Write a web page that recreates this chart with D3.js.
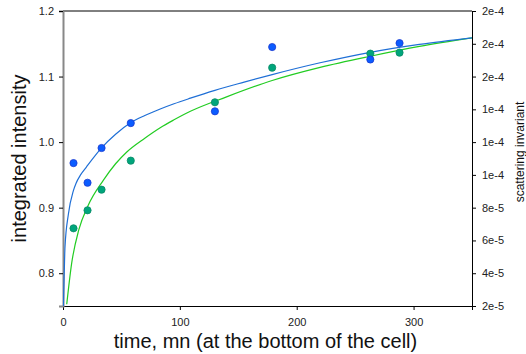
<!DOCTYPE html>
<html>
<head>
<meta charset="utf-8">
<script src="https://cdn.jsdelivr.net/npm/d3@7"></script>
<style>
  body { margin: 0; background: #fff; }
  text { font-family: "Liberation Sans", Arial, sans-serif; }
</style>
</head>
<body>
<script>
// measured times (mn)
var times = [9, 21, 33, 58, 130, 179, 263, 288];
// integrated intensity (left axis)
var intensity = [0.968, 0.938, 0.991, 1.029, 1.047, 1.145, 1.126, 1.151];
// scattering invariant (right axis)
var invariant = [6.74e-5, 7.84e-5, 9.10e-5, 1.087e-4, 1.443e-4, 1.654e-4, 1.740e-4, 1.746e-4];

// fitted curves
var intensityFitT = [0.3, 0.9, 1.7, 4.6, 8.9, 11.1, 15, 20, 33.2, 45, 57.5, 70, 83.2, 95, 109, 130, 155, 179, 220, 263, 305, 350];
var intensityFitV = [0.75, 0.789, 0.84, 0.89, 0.926, 0.937, 0.95, 0.962, 0.9916, 1.012, 1.029, 1.0405, 1.0505, 1.0585, 1.067, 1.079, 1.0915, 1.103, 1.121, 1.137, 1.149, 1.159];
var invariantFitT = [3.2, 7.4, 13.5, 21.4, 34.6, 45, 54.6, 70, 83.2, 95, 109, 140, 179, 220, 263, 305, 350];
var invariantFitV = [2.104e-5, 4.60e-5, 6.64e-5, 8.12e-5, 9.68e-5, 1.068e-4, 1.14e-4, 1.224e-4, 1.288e-4, 1.336e-4, 1.388e-4, 1.476e-4, 1.576e-4, 1.656e-4, 1.724e-4, 1.784e-4, 1.836e-4];

var xTicks = [0, 100, 200, 300];
var leftTicks = [0.8, 0.9, 1.0, 1.1, 1.2];
var rightTicks = [2e-5, 4e-5, 6e-5, 8e-5, 1e-4, 1.2e-4, 1.4e-4, 1.6e-4, 1.8e-4, 2e-4];

var W = 526, H = 354;
var margin = { top: 11, right: 54, bottom: 48, left: 63 },
  width = W - margin.left - margin.right,
  height = H - margin.top - margin.bottom;

var x = d3.scaleLinear().domain([0, 350]).range([0, width]);
var yL = d3.scaleLinear().domain([0.75, 1.2]).range([height, 0]);
var yR = d3.scaleLinear().domain([2e-5, 2e-4]).range([height, 0]);

var svg = d3.select("body").append("svg")
  .attr("width", W)
  .attr("height", H);

var g = svg.append("g")
  .attr("transform", "translate(" + margin.left + "," + margin.top + ")");

g.append("clipPath").attr("id", "clip")
  .append("rect").attr("width", width).attr("height", height);

// top frame line
g.append("line")
  .attr("x1", 0).attr("x2", width).attr("y1", 0).attr("y2", 0)
  .attr("stroke", "#000").attr("stroke-width", 1);

var xAxis = g.append("g")
  .attr("transform", "translate(0," + height + ")")
  .call(d3.axisBottom(x).tickValues(xTicks).tickSize(4).tickPadding(8).tickFormat(d3.format("d")));

var leftAxis = g.append("g")
  .call(d3.axisLeft(yL).tickValues(leftTicks).tickSize(4).tickPadding(5).tickFormat(d3.format(".1f")));

var rightAxis = g.append("g")
  .attr("transform", "translate(" + width + ",0)")
  .call(d3.axisRight(yR).tickValues(rightTicks).tickSize(4).tickPadding(6).tickFormat(d3.format(".0e")));

[xAxis, leftAxis, rightAxis].forEach(function (a) {
  a.selectAll("text").attr("font-size", 11).attr("fill", "#222")
    .style("font-family", "'Liberation Sans', Arial, sans-serif");
  a.selectAll(".tick line").attr("stroke", "#000");
  a.select(".domain").attr("stroke", "#000");
});
leftAxis.select(".domain").attr("stroke", "#888").attr("stroke-width", 2);

var plot = g.append("g").attr("clip-path", "url(#clip)");

var lineL = d3.line()
  .x(function (d) { return x(d[0]); })
  .y(function (d) { return yL(d[1]); })
  .curve(d3.curveMonotoneX);
var lineR = d3.line()
  .x(function (d) { return x(d[0]); })
  .y(function (d) { return yR(d[1]); })
  .curve(d3.curveMonotoneX);

plot.append("path")
  .datum(d3.zip(invariantFitT, invariantFitV))
  .attr("d", lineR)
  .attr("fill", "none")
  .attr("stroke", "#22cc22")
  .attr("stroke-width", 1.2);

plot.append("path")
  .datum(d3.zip(intensityFitT, intensityFitV))
  .attr("d", lineL)
  .attr("fill", "none")
  .attr("stroke", "#1f6fd6")
  .attr("stroke-width", 1.2);

g.selectAll(".dotR")
  .data(d3.zip(times, invariant))
  .enter().append("circle")
  .attr("class", "dotR")
  .attr("cx", function (d) { return x(d[0]); })
  .attr("cy", function (d) { return yR(d[1]); })
  .attr("r", 3.6)
  .attr("fill", "#00a57c")
  .attr("stroke", "#0a8a66")
  .attr("stroke-width", 0.8);

g.selectAll(".dotL")
  .data(d3.zip(times, intensity))
  .enter().append("circle")
  .attr("class", "dotL")
  .attr("cx", function (d) { return x(d[0]); })
  .attr("cy", function (d) { return yL(d[1]); })
  .attr("r", 3.6)
  .attr("fill", "#0b5cff")
  .attr("stroke", "#1a3ad0")
  .attr("stroke-width", 0.8);

// axis titles
svg.append("text")
  .attr("x", margin.left + width / 2 - 2)
  .attr("y", 348)
  .attr("text-anchor", "middle")
  .attr("font-size", 20)
  .attr("fill", "#111")
  .text("time, mn (at the bottom of the cell)");

svg.append("text")
  .attr("transform", "translate(26," + (margin.top + height / 2) + ") rotate(-90)")
  .attr("text-anchor", "middle")
  .attr("font-size", 20)
  .attr("fill", "#111")
  .text("integrated intensity");

svg.append("text")
  .attr("transform", "translate(524,152) rotate(-90)")
  .attr("text-anchor", "middle")
  .attr("font-size", 12)
  .attr("fill", "#111")
  .text("scattering invariant");
</script>
</body>
</html>
